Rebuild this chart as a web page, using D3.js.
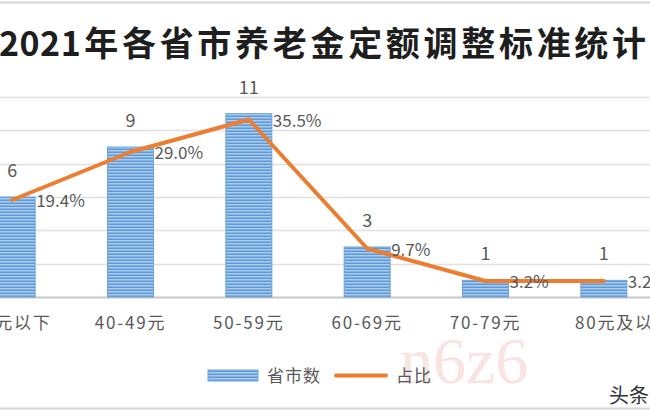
<!DOCTYPE html>
<html><head><meta charset="utf-8">
<script src="https://cdn.jsdelivr.net/npm/d3@7"></script>
<style>
html,body{margin:0;padding:0;background:#fff;overflow:hidden;}
svg{display:block;font-family:"Noto Sans CJK SC","Noto Sans",sans-serif;}
</style></head>
<body>
<svg id="c" width="650" height="418"></svg>
<script>
const titleYear = "2021";
const titleRest = "年各省市养老金定额调整标准统计";
const categories = ["40元以下","40-49元","50-59元","60-69元","70-79元","80元及以上"];
const counts = [6, 9, 11, 3, 1, 1];
const shares = [0.194, 0.290, 0.355, 0.097, 0.032, 0.032];
const shareLabels = ["19.4%","29.0%","35.5%","9.7%","3.2%","3.2%"];
const yTicks = [0, 2, 4, 6, 8, 10, 12];
const seriesNames = ["省市数", "占比"];

const svg = d3.select("#c");
const W = 650, H = 418;
const defs = svg.append("defs");
const pat = defs.append("pattern").attr("id","stripe").attr("patternUnits","userSpaceOnUse")
  .attr("width",6).attr("height",3);
pat.append("rect").attr("width",6).attr("height",3).attr("fill","#a9cbec");
pat.append("rect").attr("y",1.5).attr("width",6).attr("height",1.5).attr("fill","#5f9ad6");

// frame lines
svg.append("line").attr("x1",0).attr("x2",W).attr("y1",2.5).attr("y2",2.5).attr("stroke","#d6d6d6").attr("stroke-width",2);
svg.append("line").attr("x1",0).attr("x2",W).attr("y1",408.5).attr("y2",408.5).attr("stroke","#d6d6d6").attr("stroke-width",2);

// title
const t = svg.append("text").attr("x",-1).attr("y",56).attr("font-size",34).attr("font-weight","bold")
  .attr("fill","#1e1e1e");
t.append("tspan").attr("letter-spacing",0.5).text(titleYear);
t.append("tspan").attr("dx",3).attr("letter-spacing",3.7).text(titleRest);

const x = d3.scaleBand().domain(categories).range([-47, 663]).padding(0);
const y = d3.scaleLinear().domain([0, 12]).range([297, 97]);
const y2 = d3.scaleLinear().domain([0, 0.4]).range([297, 97]);
const cx = c => x(c) + x.bandwidth()/2;
const barW = 46;

// gridlines
svg.append("g").selectAll("line").data(yTicks).join("line")
  .attr("x1",0).attr("x2",W).attr("y1",d=>Math.round(y(d))+0.5).attr("y2",d=>Math.round(y(d))+0.5)
  .attr("stroke",d=>d===0?"#c8c8c8":"#e0e0e0").attr("stroke-width",d=>d===0?2:1.5);

// bars
svg.append("g").selectAll("rect").data(counts).join("rect")
  .attr("x",(d,i)=>cx(categories[i])-barW/2).attr("width",barW)
  .attr("y",d=>y(d)).attr("height",d=>y(0)-y(d))
  .attr("fill","url(#stripe)").attr("stroke","#6fa6dc").attr("stroke-width",1);

// bar value labels
svg.append("g").selectAll("text").data(counts).join("text")
  .attr("x",(d,i)=>cx(categories[i])).attr("y",d=>y(d)-20)
  .attr("text-anchor","middle").attr("font-size",18).attr("fill","#595959").text(d=>d);

// line
const line = d3.line().x((d,i)=>cx(categories[i])).y(d=>y2(d));
svg.append("path").datum(shares).attr("d",line).attr("fill","none")
  .attr("stroke","#ed7d31").attr("stroke-width",4).attr("stroke-linejoin","round").attr("stroke-linecap","round");

// share labels
svg.append("g").selectAll("text").data(shares).join("text")
  .attr("x",(d,i)=>cx(categories[i])+barW/2+1).attr("y",d=>y2(d)+7)
  .attr("font-size",17).attr("fill","#595959").text((d,i)=>shareLabels[i]);

// category labels
svg.append("g").selectAll("text").data(categories).join("text")
  .attr("x",(d,i)=>cx(d) + (i===categories.length-1 ? 20 : 0)).attr("y",329).attr("text-anchor","middle")
  .attr("font-size",17).attr("letter-spacing",1.8).attr("fill","#595959").text(d=>d);

// watermark
svg.append("text").attr("x",400).attr("y",383).attr("font-size",66)
  .attr("font-family","'Liberation Serif',serif").attr("fill","#f4c8c8").attr("opacity",0.5).text("n6z6");

// legend
const lg = svg.append("g");
lg.append("rect").attr("x",208).attr("y",370).attr("width",50).attr("height",11)
  .attr("fill","url(#stripe)").attr("stroke","#6fa6dc");
lg.append("text").attr("x",267).attr("y",382).attr("font-size",17).attr("letter-spacing",1).attr("fill","#595959").text(seriesNames[0]);
lg.append("line").attr("x1",336).attr("x2",386).attr("y1",375.5).attr("y2",375.5)
  .attr("stroke","#ed7d31").attr("stroke-width",4).attr("stroke-linecap","round");
lg.append("text").attr("x",396).attr("y",382).attr("font-size",17).attr("letter-spacing",1).attr("fill","#595959").text(seriesNames[1]);

svg.append("text").attr("x",609).attr("y",403).attr("font-size",20).attr("fill","#333").text("头条");
</script>
</body></html>
